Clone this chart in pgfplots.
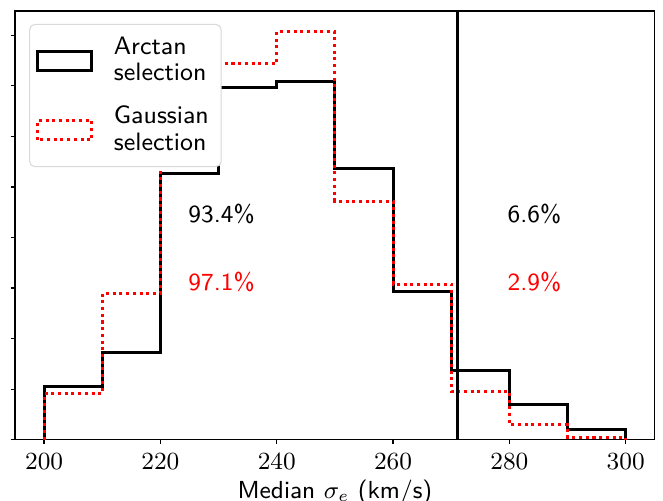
\documentclass[border=0pt]{standalone}
\usepackage{pgfplots}
\pgfplotsset{compat=1.18}
\begin{document}
\begin{tikzpicture}
\begin{axis}[
  scale only axis,
  width=233.6pt, height=156.6pt,
  xmin=195, xmax=305,
  ymin=0, ymax=8.48,
  xtick={200,220,...,300},
  ytick={0,1,...,8},
  yticklabels={},
  tick pos=left,
  tick align=outside,
  major tick length=1.6pt,
  axis line style={line width=0.5pt},
  tick style={line width=0.5pt, black},
  tick label style={font=\fontsize{9}{11}\selectfont},
  xlabel={\sffamily Median $\sigma_e$ (km/s)},
  xlabel style={font=\fontsize{9}{11}\selectfont, yshift=3pt},
  legend cell align=left,
  legend image code/.code={
    \draw[#1, sharp corners] (0pt,-3.5pt) rectangle (19.7pt,3.5pt);
    \path (25.2pt,0pt);},
  legend style={
    at={(0,1)}, anchor=north west,
    xshift=5.1pt, yshift=-4.7pt,
    draw=black!15, rounded corners=2pt, fill=white,
    font=\sffamily\fontsize{9.2}{9.7}\selectfont,
    cells={align=left},
    row sep=3.7pt,
    inner xsep=2.5pt, inner ysep=2.5pt,
  },
]

% Arctan selection
\addplot[const plot, black, line width=1.1pt]
coordinates {
  (200,0)(200,1.05)(210,1.73)(220,5.26)(230,6.96)(240,7.09)
  (250,5.36)(260,2.93)(270,1.37)(280,0.69)(290,0.21)(300,0)
};
\addlegendentry{Arctan\\selection}

% Gaussian selection
\addplot[const plot, red, line width=1.1pt, dash pattern=on 1.1pt off 1.35pt]
coordinates {
  (200,0)(200,0.92)(210,2.89)(220,6.4)(230,7.44)(240,8.07)
  (250,4.72)(260,3.08)(270,0.96)(280,0.30)(290,0.05)(300,0)
};
\addlegendentry{Gaussian\\selection}

% cut
\addplot[black, line width=1.1pt, forget plot] coordinates {(271,0)(271,8.48)};

\node[font=\sffamily\fontsize{9}{11}\selectfont] at (axis cs:230.5,4.47) {93.4\%};
\node[font=\sffamily\fontsize{9}{11}\selectfont, red] at (axis cs:230.5,3.12) {97.1\%};
\node[font=\sffamily\fontsize{9}{11}\selectfont] at (axis cs:284.3,4.47) {6.6\%};
\node[font=\sffamily\fontsize{9}{11}\selectfont, red] at (axis cs:284.3,3.12) {2.9\%};
\end{axis}
\pgfresetboundingbox
\path ([shift={(-5.5pt,-22.3pt)}]current axis.south west) rectangle ([shift={(3pt,4pt)}]current axis.north east);
\end{tikzpicture}
\end{document}
